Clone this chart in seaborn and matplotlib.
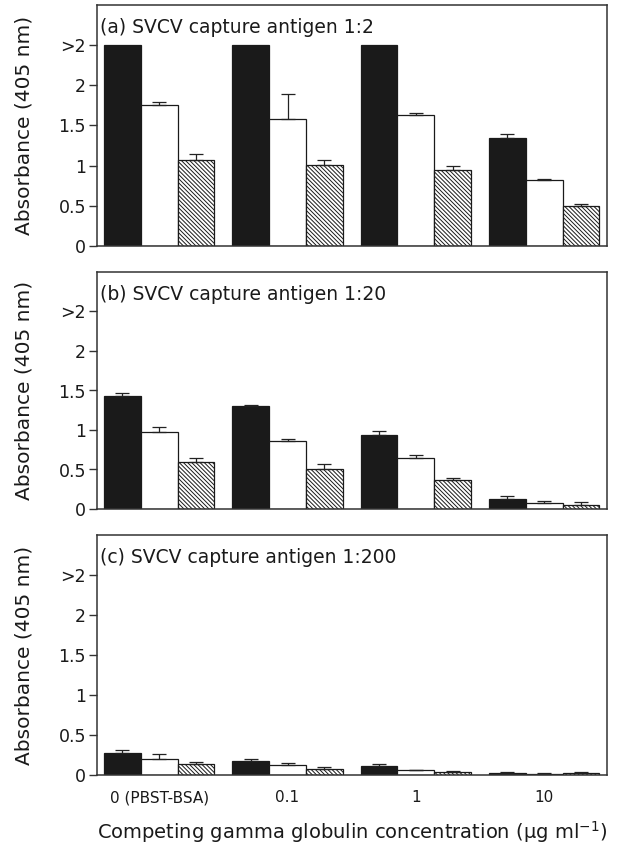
import matplotlib
matplotlib.use("Agg")
import numpy as np
import pandas as pd
import seaborn as sns
import matplotlib.pyplot as plt

# ---------------- data ----------------
categories = ["0 (PBST-BSA)", "0.1", "1", "10"]
series = ["Series 1", "Series 2", "Series 3"]
panel_titles = ["(a) SVCV capture antigen 1:2",
                "(b) SVCV capture antigen 1:20",
                "(c) SVCV capture antigen 1:200"]
y_ticks = [0, 0.5, 1, 1.5, 2, 2.5]
y_tick_labels = ["0", "0.5", "1", "1.5", "2", ">2"]

# panel (a)
a_black = [2.5, 2.5, 2.5, 1.35]
a_black_top = [np.nan, np.nan, np.nan, 1.40]
a_white = [1.75, 1.58, 1.63, 0.82]
a_white_top = [1.79, 1.89, 1.655, 0.83]
a_hatch = [1.07, 1.01, 0.94, 0.50]
a_hatch_top = [1.15, 1.065, 0.99, 0.525]

# panel (b)
b_black = [1.425, 1.30, 0.94, 0.13]
b_black_top = [1.467, 1.32, 0.982, 0.165]
b_white = [0.98, 0.865, 0.64, 0.075]
b_white_top = [1.037, 0.885, 0.68, 0.10]
b_hatch = [0.60, 0.51, 0.365, 0.055]
b_hatch_top = [0.65, 0.573, 0.39, 0.085]

# panel (c)
c_black = [0.275, 0.18, 0.11, 0.02]
c_black_top = [0.31, 0.195, 0.14, 0.035]
c_white = [0.20, 0.13, 0.06, 0.015]
c_white_top = [0.26, 0.15, 0.065, 0.025]
c_hatch = [0.14, 0.075, 0.04, 0.025]
c_hatch_top = [0.16, 0.10, 0.055, 0.035]

panels = [
    ([a_black, a_white, a_hatch], [a_black_top, a_white_top, a_hatch_top]),
    ([b_black, b_white, b_hatch], [b_black_top, b_white_top, b_hatch_top]),
    ([c_black, c_white, c_hatch], [c_black_top, c_white_top, c_hatch_top]),
]

# ---------------- style ----------------
sns.set_style("ticks")
plt.rcParams["font.family"] = ["DejaVu Sans"]
plt.rcParams["hatch.linewidth"] = 0.7
plt.rcParams["hatch.color"] = "#222222"

W, H = 637, 846
fig = plt.figure(figsize=(W / 100, H / 100), dpi=100)

left = 97 / W
width = (607 - 97) / W
boxes = [(5, 246), (272, 509), (535, 775)]

face_colors = ["#1a1a1a", "#ffffff", "#ffffff"]

for k, ((vals, tops), (top_px, bot_px)) in enumerate(zip(panels, boxes)):
    ax = fig.add_axes([left, (H - bot_px) / H, width, (bot_px - top_px) / H])
    rows = []
    for s, v in zip(series, vals):
        for c, val in zip(categories, v):
            rows.append({"conc": c, "abs": val, "series": s})
    df = pd.DataFrame(rows)
    sns.barplot(data=df, x="conc", y="abs", hue="series", order=categories,
                hue_order=series, palette=face_colors, saturation=1,
                width=0.86, edgecolor="#1a1a1a", linewidth=0.9,
                errorbar=None, legend=False, ax=ax)
    n = len(categories)
    for i in range(len(series)):
        for j in range(n):
            p = ax.patches[i * n + j]
            if i == 2:
                p.set_hatch("\\" * 8)
            top = tops[i][j]
            if not np.isnan(top):
                xc = p.get_x() + p.get_width() / 2
                h = p.get_height()
                ax.errorbar([xc], [h], yerr=[[0], [top - h]], fmt="none",
                            ecolor="#222222", elinewidth=0.9, capsize=5,
                            capthick=0.9, zorder=1)
    ax.set_xlim(-0.485, 3.49)
    ax.set_ylim(0, 3.0)
    ax.set_yticks(y_ticks)
    ax.set_yticklabels(y_tick_labels, fontsize=12.5, color="#1a1a1a")
    ax.tick_params(axis="y", length=6, width=1.0, pad=2, color="#333333")
    ax.set_ylabel("Absorbance (405 nm)", fontsize=14.5, color="#1a1a1a")
    ax.yaxis.set_label_coords(-0.125, 0.5)
    ax.set_xlabel("")
    if k < 2:
        ax.set_xticklabels([])
        ax.tick_params(axis="x", length=0)
    else:
        ax.tick_params(axis="x", length=0, pad=11, labelsize=11, labelcolor="#1a1a1a")
        ax.set_xlabel("Competing gamma globulin concentration (μg ml$^{-1}$)",
                      fontsize=14, color="#1a1a1a", labelpad=10)
    for sp in ax.spines.values():
        sp.set_visible(True)
        sp.set_color("#333333")
        sp.set_linewidth(1.1)
    ax.text(0.006, 0.905, panel_titles[k], transform=ax.transAxes,
            fontsize=13.5, ha="left", va="center", color="#1a1a1a")

fig.savefig("out.png", dpi=100)
